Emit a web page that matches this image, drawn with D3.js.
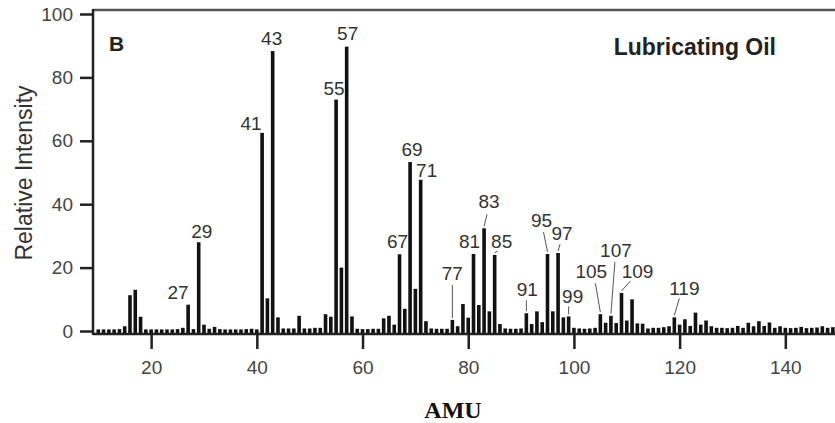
<!DOCTYPE html>
<html>
<head>
<meta charset="utf-8">
<script src="https://cdn.jsdelivr.net/npm/d3@7"></script>
<style>
  body { margin: 0; background: #fff; }
  text { font-family: "Liberation Sans", Arial, sans-serif; }
</style>
</head>
<body>
<div id="chart"></div>
<script>
// Mass spectrum of lubricating oil, relative intensity per AMU (10..149)
const amu = d3.range(10, 150);
const intensity = [
  0.5, 0.5, 0.5, 0.5, 0.6, 1.5, 11.3, 13, 4.5, 0.5,      // 10-19
  0.5, 0.5, 0.5, 0.5, 0.5, 0.6, 1, 8.3, 0.6, 28,         // 20-29
  2, 0.7, 1.3, 0.6, 0.5, 0.5, 0.5, 0.5, 0.6, 0.7,        // 30-39
  0.5, 62.5, 10.3, 88.3, 4.3, 0.8, 0.8, 0.8, 4.8, 0.8,   // 40-49
  0.8, 1, 1, 5.3, 4.5, 73, 20, 89.7, 4.6, 0.7,           // 50-59
  0.6, 0.6, 0.7, 0.7, 4, 4.8, 2, 24.2, 7, 53.3,          // 60-69
  13.3, 47.7, 3.1, 0.8, 0.7, 0.7, 0.7, 3.5, 1.5, 8.5,    // 70-79
  4.2, 24.3, 8.2, 32.4, 6.2, 24, 2.2, 0.8, 0.7, 0.7,     // 80-89
  0.8, 5.6, 2.2, 6.2, 2.8, 24.3, 6.2, 24.6, 4.3, 4.6,    // 90-99
  1, 0.8, 0.7, 0.8, 1, 5.3, 2.6, 4.8, 2.5, 12,           // 100-109
  3.3, 10, 2.4, 2.3, 0.8, 1, 1, 1.2, 1.5, 4.3,           // 110-119
  2, 3.7, 1.6, 5.8, 2, 3.3, 1.5, 1, 1, 0.9,              // 120-129
  1, 1.6, 1, 2.6, 1.5, 3.1, 1.6, 2.7, 1, 1.5,            // 130-139
  1, 0.9, 1, 1.3, 0.9, 1, 1.1, 1.5, 1, 1.2               // 140-149
];
const peakLabels = [27, 29, 41, 43, 55, 57, 67, 69, 71, 77, 81, 83, 85, 91, 95, 97, 99, 105, 107, 109, 119];
const xTicks = [20, 40, 60, 80, 100, 120, 140];
const yTicks = [0, 20, 40, 60, 80, 100];

// label placement (px offsets from bar top): text centre, optional leader top end
const labelLayout = {
  27: { dx: -10, dy: -13 }, 29: { dx: 3, dy: -11 }, 41: { dx: -11, dy: -10 },
  43: { dx: -1, dy: -13 }, 55: { dx: -2, dy: -11 }, 57: { dx: 1, dy: -13 },
  67: { dx: -2, dy: -13 }, 69: { dx: 2, dy: -13 }, 71: { dx: 6, dy: -10 },
  77: { dx: 0, dy: -47, lead: [0, -35] }, 81: { dx: -4, dy: -13 },
  83: { dx: 5, dy: -27, lead: [3, -14] }, 85: { dx: 7, dy: -14, lead: [3, -4] },
  91: { dx: 1, dy: -24, lead: [0, -13] }, 95: { dx: -6, dy: -34, lead: [-4, -22] },
  97: { dx: 4, dy: -20, lead: [2, -9] }, 99: { dx: 4, dy: -20, lead: [0, -10] },
  105: { dx: -9, dy: -43, lead: [-5, -31] }, 107: { dx: 5, dy: -66, lead: [4, -54] },
  109: { dx: 16, dy: -22, lead: [9, -12] }, 119: { dx: 10, dy: -29, lead: [5, -19] }
};

const width = 835, height = 423;
const margin = { top: 10, right: 0, bottom: 89, left: 93 };

const svg = d3.select("#chart").append("svg")
  .attr("width", width)
  .attr("height", height);

const xScale = d3.scaleLinear().domain([9, 149.4]).range([margin.left, width - margin.right]);
const yScale = d3.scaleLinear().domain([0, 100]).range([331, 14]);
const axisY = height - margin.bottom; // 334

// bars
svg.append("g")
  .selectAll("rect")
  .data(amu.map((m, i) => ({ m, v: intensity[i] })))
  .enter()
  .append("rect")
  .attr("x", d => xScale(d.m) - 1.8)
  .attr("y", d => yScale(d.v))
  .attr("width", 3.6)
  .attr("height", d => axisY - yScale(d.v))
  .attr("fill", "#111");

// frame top line
svg.append("line")
  .attr("x1", margin.left).attr("x2", width)
  .attr("y1", margin.top).attr("y2", margin.top)
  .attr("stroke", "#555").attr("stroke-width", 2.5);

// axes
const yAxis = d3.axisLeft(yScale).tickValues(yTicks).tickSize(13).tickPadding(7);
const yg = svg.append("g")
  .attr("transform", `translate(${margin.left},0)`)
  .call(yAxis);
yg.select(".domain").remove();
yg.append("line")
  .attr("x1", 0).attr("x2", 0)
  .attr("y1", margin.top - 1).attr("y2", axisY + 1)
  .attr("stroke", "#222").attr("stroke-width", 2.5);

const xAxis = d3.axisBottom(xScale).tickValues(xTicks).tickSize(15).tickPadding(12);
const xg = svg.append("g")
  .attr("transform", `translate(0,${axisY})`)
  .call(xAxis);
xg.select(".domain").remove();
xg.append("line")
  .attr("x1", margin.left).attr("x2", width)
  .attr("y1", 0).attr("y2", 0)
  .attr("stroke", "#222").attr("stroke-width", 2.5);

svg.selectAll(".tick line").attr("stroke", "#222").attr("stroke-width", 2.5);
svg.selectAll(".tick text")
  .attr("fill", "#444")
  .style("font-size", "19px")
  .style("font-family", "'Liberation Sans', Arial, sans-serif");

// peak labels and leader lines
const lab = svg.append("g");
peakLabels.forEach(m => {
  const v = intensity[amu.indexOf(m)];
  const bx = xScale(m), by = yScale(v);
  const L = labelLayout[m];
  if (L.lead) {
    lab.append("line")
      .attr("x1", bx + L.lead[0]).attr("y1", by + L.lead[1])
      .attr("x2", bx).attr("y2", by - 2)
      .attr("stroke", "#555").attr("stroke-width", 1);
  }
  lab.append("text")
    .attr("x", bx + L.dx)
    .attr("y", by + L.dy)
    .attr("dy", "0.36em")
    .attr("text-anchor", "middle")
    .attr("fill", "#333")
    .style("font-size", "19px")
    .text(m);
});

// panel letter and title
svg.append("text")
  .attr("x", 109).attr("y", 51)
  .style("font-size", "21px").style("font-weight", "bold")
  .attr("fill", "#222")
  .text("B");

svg.append("text")
  .attr("x", 776).attr("y", 55)
  .attr("text-anchor", "end")
  .style("font-size", "23px").style("font-weight", "bold")
  .attr("fill", "#222")
  .text("Lubricating Oil");

// axis titles
svg.append("text")
  .attr("transform", "rotate(-90)")
  .attr("x", -173)
  .attr("y", 32)
  .attr("text-anchor", "middle")
  .style("font-size", "23px")
  .attr("fill", "#333")
  .text("Relative Intensity");

svg.append("text")
  .attr("x", 453)
  .attr("y", 418)
  .attr("text-anchor", "middle")
  .style("font-family", "'Liberation Serif', 'Times New Roman', serif")
  .style("font-size", "24px")
  .style("font-weight", "bold")
  .attr("fill", "#111")
  .text("AMU");
</script>
</body>
</html>
